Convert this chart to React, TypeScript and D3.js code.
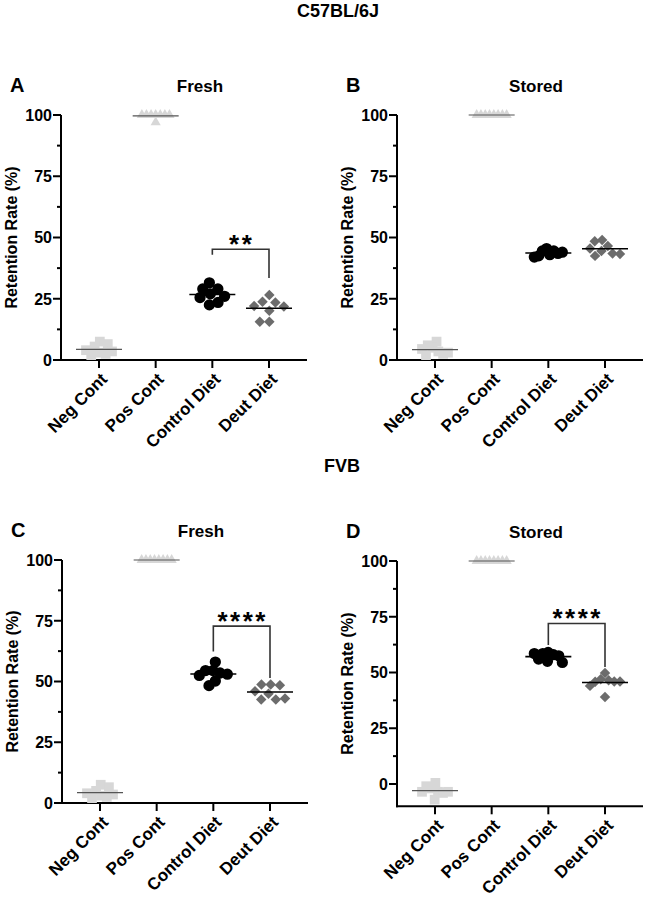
import React from 'react';
import * as d3 from 'd3';

const CATEGORIES = ['Neg Cont', 'Pos Cont', 'Control Diet', 'Deut Diet'];
const Y_TICKS = [0, 25, 50, 75, 100];
const Y_MINOR = [12.5, 37.5, 62.5, 87.5];

// Panel A: C57BL/6J Fresh
const A_NEG = [7.5, 5.5, 3, 2.5, 6.5, 2, 3.5, 4];
const A_POS = [100, 100, 100, 100, 97, 100, 100, 100];
const A_CTRL = [31.5, 29, 27, 29, 25.5, 22.5, 23.5, 26];
const A_DEUT = [26.5, 23.8, 23.5, 21.8, 22, 20.1, 15.6, 15.6];
// Panel B: C57BL/6J Stored
const B_NEG = [7.5, 5, 3.5, 2.5, 6, 2, 3, 4.5];
const B_POS = [100, 100, 100, 100, 100, 100, 100, 100];
const B_CTRL = [45.5, 44.5, 43, 44.5, 42.5, 43.5, 42, 44];
const B_DEUT = [49, 48.5, 46.5, 45.5, 44.5, 43.5, 43.3, 42.5];
// Panel C: FVB Fresh
const C_NEG = [7.5, 5, 3, 2.5, 6.5, 2, 3.5, 4];
const C_POS = [100, 100, 100, 100, 100, 100, 100, 100];
const C_CTRL = [58, 54.5, 53.5, 54.5, 50.2, 53, 52.5, 48.3];
const C_DEUT = [48.8, 48.8, 48.5, 46, 45, 42.6, 42.6, 43];
// Panel D: FVB Stored
const D_NEG = [0.5, -2, -3.5, -4, -1, -7, -3.5, -3.5];
const D_POS = [100, 100, 100, 100, 100, 100, 100, 100];
const D_CTRL = [59, 58.5, 58, 56, 57.5, 55, 54.5, 58.5];
const D_DEUT = [49.8, 47, 46.5, 46, 45.8, 46, 44, 39];

// significance brackets
const A_SIG = { label: '**', top: 45.2, leftEnd: 43, rightEnd: 33.5 };
const C_SIG = { label: '****', top: 72.8, leftEnd: 62.3, rightEnd: 51.4 };
const D_SIG = { label: '****', top: 72, leftEnd: 62.3, rightEnd: 52.5 };

const FONT = "'Liberation Sans', Arial, Helvetica, sans-serif";
const LIGHT = '#d7d7d7';
const DARK = '#6c6c6c';

type Panel = {
  letter: string;
  title: string;
  ax: number;
  y100: number;
  y0: number;
  yMin: number;
  series: number[][];
  sig?: { label: string; top: number; leftEnd: number; rightEnd: number };
};

const PANELS: Panel[] = [
  { letter: 'A', title: 'Fresh', ax: 61, y100: 115, y0: 360, yMin: 0, series: [A_NEG, A_POS, A_CTRL, A_DEUT], sig: A_SIG },
  { letter: 'B', title: 'Stored', ax: 397, y100: 115, y0: 360, yMin: 0, series: [B_NEG, B_POS, B_CTRL, B_DEUT] },
  { letter: 'C', title: 'Fresh', ax: 62, y100: 560, y0: 803, yMin: 0, series: [C_NEG, C_POS, C_CTRL, C_DEUT], sig: C_SIG },
  { letter: 'D', title: 'Stored', ax: 397, y100: 561, y0: 784, yMin: -10, series: [D_NEG, D_POS, D_CTRL, D_DEUT], sig: D_SIG },
];

const MARKERS = [
  { type: d3.symbolSquare, size: 95, fill: LIGHT, sep: 10.5, rot: 0, maxHalf: 13 },
  { type: d3.symbolTriangle, size: 45, fill: LIGHT, sep: 4.6, rot: 0, maxHalf: 15 },
  { type: d3.symbolCircle, size: 100, fill: '#000', sep: 9, rot: 0, maxHalf: 14 },
  { type: d3.symbolSquare, size: 55, fill: DARK, sep: 9.5, rot: 45, maxHalf: 15 },
];

function swarm(ys: number[], d: number, maxHalf: number): number[] {
  const placed: { x: number; y: number }[] = [];
  const xs: number[] = [];
  ys.forEach((y) => {
    const ivs = placed
      .filter((p) => Math.abs(p.y - y) < d)
      .map((p) => {
        const h = Math.sqrt(d * d - (p.y - y) ** 2);
        return [p.x - h, p.x + h];
      });
    const cands = [0, ...ivs.flat()].sort((a, b) => Math.abs(a) - Math.abs(b));
    let x = 0;
    for (const c of cands) {
      if (!ivs.some(([a, b]) => c > a + 1e-6 && c < b - 1e-6)) {
        x = c;
        break;
      }
    }
    xs.push(x);
    placed.push({ x, y });
  });
  const lo = d3.min(xs) as number;
  const hi = d3.max(xs) as number;
  const c = (lo + hi) / 2;
  const half = (hi - lo) / 2;
  const k = half > maxHalf ? maxHalf / half : 1;
  return xs.map((v) => (v - c) * k);
}

function PanelView({ p }: { p: Panel }) {
  const y = d3.scaleLinear().domain([0, 100]).range([p.y0, p.y100]);
  const yBottom = y(p.yMin);
  const x = d3.scalePoint<string>().domain(CATEGORIES).range([p.ax + 38, p.ax + 208]);
  const xEnd = p.ax + 246;
  const midY = (p.y100 + yBottom) / 2;
  return (
    <g>
      <text x={p.ax - 51} y={p.y100 - 23} fontSize={20} fontWeight="bold">{p.letter}</text>
      <text x={p.ax + 139} y={p.y100 - 23} fontSize={17} fontWeight="bold" textAnchor="middle">{p.title}</text>
      <text
        transform={`translate(${p.ax - 44},${midY}) rotate(-90)`}
        fontSize={16}
        fontWeight="bold"
        textAnchor="middle"
      >
        Retention Rate (%)
      </text>
      <line x1={p.ax} x2={p.ax} y1={p.y100} y2={yBottom + 1} stroke="#000" strokeWidth={2} />
      {Y_TICKS.map((t) => (
        <g key={t}>
          <line x1={p.ax - 8} x2={p.ax} y1={y(t)} y2={y(t)} stroke="#000" strokeWidth={2} />
          <text x={p.ax - 9} y={y(t)} dy="0.36em" fontSize={16} fontWeight="bold" textAnchor="end">{t}</text>
        </g>
      ))}
      {Y_MINOR.map((t) => (
        <line key={t} x1={p.ax - 4} x2={p.ax} y1={y(t)} y2={y(t)} stroke="#000" strokeWidth={2} />
      ))}
      <line x1={p.ax - 1} x2={xEnd} y1={yBottom} y2={yBottom} stroke="#000" strokeWidth={2} />
      {CATEGORIES.map((c) => (
        <g key={c}>
          <line x1={x(c)} x2={x(c)} y1={yBottom} y2={yBottom + 8} stroke="#000" strokeWidth={2} />
          <text
            transform={`translate(${(x(c) as number) + 5},${yBottom + 16}) rotate(-45)`}
            fontSize={17}
            fontWeight="bold"
            textAnchor="end"
            dy="0.35em"
          >
            {c}
          </text>
        </g>
      ))}
      {p.series.map((vals, si) => {
        const m = MARKERS[si];
        const cx = x(CATEGORIES[si]) as number;
        const ys = vals.map((v) => y(v));
        const offs = swarm(ys, m.sep, m.maxHalf);
        const path = d3.symbol().type(m.type).size(m.size)() as string;
        const mean = d3.mean(vals) as number;
        const light = si < 2;
        return (
          <g key={si}>
            {vals.map((v, i) => (
              <path
                key={i}
                d={path}
                fill={m.fill}
                transform={`translate(${cx + offs[i]},${ys[i]}) rotate(${m.rot})`}
              />
            ))}
            <line
              x1={cx - 23}
              x2={cx + 23}
              y1={y(mean)}
              y2={y(mean)}
              stroke={light ? '#555' : '#000'}
              strokeWidth={light ? 1.2 : 1.6}
            />
          </g>
        );
      })}
      {p.sig && (
        <g>
          <path
            d={`M${x('Control Diet')},${y(p.sig.leftEnd)}V${y(p.sig.top)}H${x('Deut Diet')}V${y(p.sig.rightEnd)}`}
            fill="none"
            stroke="#333"
            strokeWidth={1.6}
          />
          <text
            x={((x('Control Diet') as number) + (x('Deut Diet') as number)) / 2 + 1}
            y={y(p.sig.top) + 4}
            fontSize={26}
            fontWeight="bold"
            textAnchor="middle"
            letterSpacing={2.5}
          >
            {p.sig.label}
          </text>
        </g>
      )}
    </g>
  );
}

export default function App() {
  return (
    <svg
      width={648}
      height={902}
      style={{ position: 'absolute', left: 0, top: 0, background: '#fff' }}
      fontFamily={FONT}
    >
      <rect width={648} height={902} fill="#fff" />
      <text x={338} y={17} fontSize={18} fontWeight="bold" textAnchor="middle">C57BL/6J</text>
      <text x={342} y={472} fontSize={18} fontWeight="bold" textAnchor="middle">FVB</text>
      {PANELS.map((p) => (
        <PanelView key={p.letter} p={p} />
      ))}
    </svg>
  );
}
